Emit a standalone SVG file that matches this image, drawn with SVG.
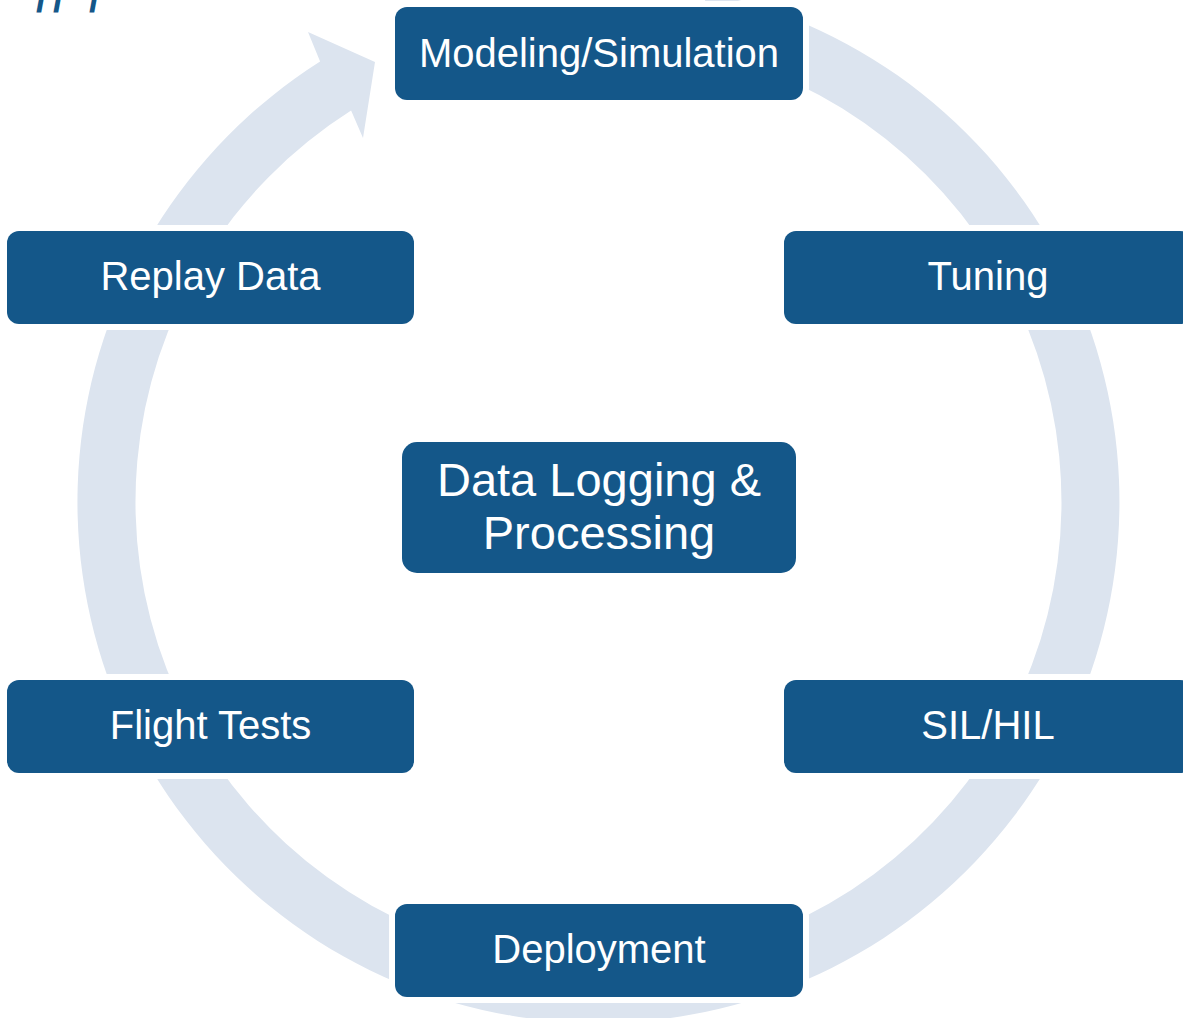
<svg xmlns="http://www.w3.org/2000/svg" width="1183" height="1018" viewBox="0 0 1183 1018">
  <style>
    .box { fill: #145789; stroke: #ffffff; stroke-width: 12; paint-order: stroke; }
    .lbl { fill: #ffffff; font-family: "Liberation Sans", Arial, sans-serif; font-size: 40px; text-anchor: middle; }
    .big { font-size: 47px; }
    .ring { fill: #dce4ef; }
    .frag { fill: #145789; font-family: "Liberation Sans", Arial, sans-serif; font-size: 40px; font-weight: bold; }
  </style>
  <rect width="1183" height="1018" fill="#ffffff"/>
  <text class="frag" y="12"><tspan x="36">/</tspan><tspan x="53">/</tspan><tspan x="89">/</tspan></text>

  <g id="connectors">
    <path class="ring" d="M706.8,-7.6 A521,521 0 1 1 320.1,61.6 L308,32 L375,62 L363,138 L351.1,110.6 A463,463 0 1 0 694.8,49.1 Z"/>
  </g>

  <g id="node-modeling">
    <rect class="box" x="395" y="7" width="408" height="93" rx="12"/>
    <text class="lbl" x="599" y="67">Modeling/Simulation</text>
  </g>
  <g id="node-tuning">
    <rect class="box" x="784" y="231" width="408" height="93" rx="12"/>
    <text class="lbl" x="988" y="290">Tuning</text>
  </g>
  <g id="node-silhil">
    <rect class="box" x="784" y="680" width="408" height="93" rx="12"/>
    <text class="lbl" x="988" y="739">SIL/HIL</text>
  </g>
  <g id="node-deployment">
    <rect class="box" x="395" y="904" width="408" height="93" rx="12"/>
    <text class="lbl" x="599" y="963">Deployment</text>
  </g>
  <g id="node-flight">
    <rect class="box" x="7" y="680" width="407" height="93" rx="12"/>
    <text class="lbl" x="210.5" y="739">Flight Tests</text>
  </g>
  <g id="node-replay">
    <rect class="box" x="7" y="231" width="407" height="93" rx="12"/>
    <text class="lbl" x="210.5" y="290">Replay Data</text>
  </g>
  <g id="node-datalogging">
    <rect class="box" x="402" y="442" width="394" height="131" rx="15"/>
    <text class="lbl big" x="599" y="496">Data Logging &amp;</text>
    <text class="lbl big" x="599" y="549">Processing</text>
  </g>
</svg>
